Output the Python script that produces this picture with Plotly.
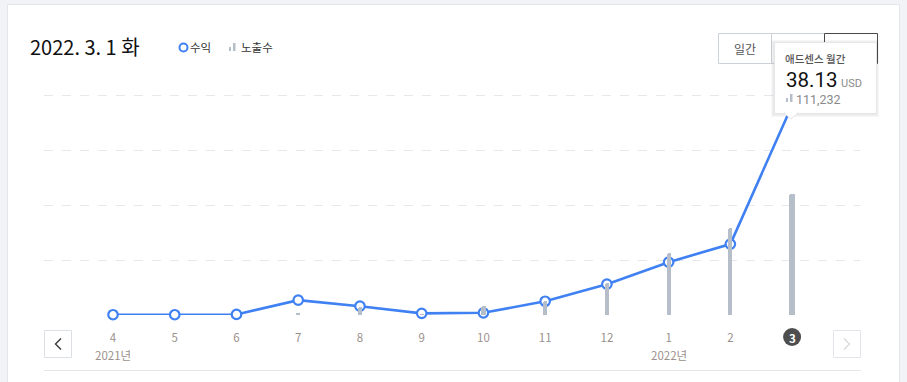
import plotly.graph_objects as go

# ---- data ----
months = ["4", "5", "6", "7", "8", "9", "10", "11", "12", "1", "2", "3"]
revenue_usd = [0.05, 0.05, 0.1, 2.7, 1.6, 0.3, 0.4, 2.5, 5.6, 9.6, 12.9, 38.13]
impressions = [0, 0, 0, 1800, 7000, 300, 8300, 13000, 29000, 57000, 80000, 111232]
year_labels = [("4", "2021년"), ("1", "2022년")]
current_month = "3"
title_text = "2022. 3. 1 화"
legend_names = ["수익", "노출수"]
tooltip_title = "애드센스 월간"
tooltip_value = "38.13"
tooltip_unit = "USD"
tooltip_imp = "111,232"
period_button = "일간"

W, H = 907, 382
L, R, T, B = 44, 860, 80, 315  # plot area pixels
FONT = "Noto Sans CJK KR, Noto Sans, sans-serif"
NUMFONT = "Roboto, Noto Sans, sans-serif"
BLUE = "#3f80f2"
BARC = "#b6bec9"
YTOP = 40 * (B - T) / 220.0  # 40 sits at y=95
Y2TOP = 111232 * (B - T) / 121.0  # 111,232 bar top at y=194


def px(x):
    return (x - L) / (R - L)


def py(y):
    return (B - y) / (B - T)


ci = months.index(current_month)
bar_widths = [0.1 if i == ci else 0.068 for i in range(len(months))]

fig = go.Figure()

fig.add_trace(go.Bar(
    x=months, y=impressions, yaxis="y2", width=bar_widths,
    marker=dict(color=BARC, cornerradius=2, line=dict(width=0)),
    hoverinfo="skip", showlegend=False,
))
fig.add_trace(go.Scatter(
    x=months, y=revenue_usd, mode="lines+markers", cliponaxis=False,
    line=dict(color=BLUE, width=2.6),
    marker=dict(size=9.5, color="white", line=dict(color=BLUE, width=2.2)),
    hoverinfo="skip", showlegend=False,
))

shapes = []
ann = []

# card background
shapes.append(dict(type="rect", xref="paper", yref="paper", layer="below",
                   x0=px(7.5), x1=px(899.5), y0=py(4.5), y1=py(400),
                   fillcolor="white", line=dict(color="#e3e6eb", width=1)))

# bottom separator
shapes.append(dict(type="line", xref="paper", yref="paper",
                   x0=px(44), x1=px(861), y0=py(370.5), y1=py(370.5),
                   line=dict(color="#e4e6ea", width=1)))

# nav buttons
shapes.append(dict(type="rect", xref="paper", yref="paper",
                   x0=px(44.5), x1=px(71.5), y0=py(330.5), y1=py(357.5),
                   fillcolor="white", line=dict(color="#dcdfe4", width=1)))
shapes.append(dict(type="path", xref="paper", yref="paper",
                   path=f"M {px(61)},{py(338.5)} L {px(55.5)},{py(344)} L {px(61)},{py(349.5)}",
                   line=dict(color="#333333", width=1.3)))
shapes.append(dict(type="rect", xref="paper", yref="paper",
                   x0=px(833.5), x1=px(860.5), y0=py(330.5), y1=py(357.5),
                   fillcolor="white", line=dict(color="#e3e5ea", width=1)))
shapes.append(dict(type="path", xref="paper", yref="paper",
                   path=f"M {px(844)},{py(338.5)} L {px(849.5)},{py(344)} L {px(844)},{py(349.5)}",
                   line=dict(color="#d6d9df", width=1.3)))

# current month circle (pixel-sized, anchored on the category axis)
shapes.append(dict(type="circle", xref="x", yref="paper",
                   xsizemode="pixel", ysizemode="pixel",
                   xanchor=ci, yanchor=py(337),
                   x0=-9, x1=9, y0=-9, y1=9,
                   fillcolor="#4e4e4e", line=dict(width=0)))

# period buttons
shapes.append(dict(type="rect", xref="paper", yref="paper",
                   x0=px(718.5), x1=px(771.5), y0=py(33.5), y1=py(63.5),
                   fillcolor="white", line=dict(color="#cdd1d8", width=1)))
shapes.append(dict(type="rect", xref="paper", yref="paper",
                   x0=px(771.5), x1=px(824.5), y0=py(33.5), y1=py(63.5),
                   fillcolor="white", line=dict(color="#cdd1d8", width=1)))
shapes.append(dict(type="rect", xref="paper", yref="paper",
                   x0=px(824.5), x1=px(877.5), y0=py(33.5), y1=py(63.5),
                   fillcolor="white", line=dict(color="#4a4a4a", width=1)))

# tooltip shadow + box + arrow
for i, a in enumerate([0.035, 0.05]):
    d = 3 - i * 1.5
    shapes.append(dict(type="rect", xref="paper", yref="paper",
                       x0=px(774 - d), x1=px(876 + d), y0=py(42 - d + 1), y1=py(113 + d + 1),
                       fillcolor=f"rgba(0,0,0,{a})", line=dict(width=0)))
shapes.append(dict(type="rect", xref="paper", yref="paper",
                   x0=px(774.5), x1=px(876.5), y0=py(42.5), y1=py(113.5),
                   fillcolor="white", line=dict(color="#e4e6ea", width=1)))
shapes.append(dict(type="path", xref="paper", yref="paper",
                   path=f"M {px(784)},{py(113)} L {px(791)},{py(119)} L {px(798)},{py(113)} Z",
                   fillcolor="white", line=dict(color="#e4e6ea", width=1)))
shapes.append(dict(type="line", xref="paper", yref="paper",
                   x0=px(785), x1=px(797), y0=py(113), y1=py(113),
                   line=dict(color="white", width=2)))

# legend icons
shapes.append(dict(type="circle", xref="paper", yref="paper",
                   x0=px(179.5), x1=px(187.5), y0=py(43.5), y1=py(51.5),
                   fillcolor="white", line=dict(color=BLUE, width=2)))
shapes.append(dict(type="rect", xref="paper", yref="paper",
                   x0=px(229), x1=px(231), y0=py(47), y1=py(51),
                   fillcolor=BARC, line=dict(width=0)))
shapes.append(dict(type="rect", xref="paper", yref="paper",
                   x0=px(233), x1=px(235.5), y0=py(43), y1=py(51),
                   fillcolor=BARC, line=dict(width=0)))
# tooltip bar icon
shapes.append(dict(type="rect", xref="paper", yref="paper",
                   x0=px(786), x1=px(788), y0=py(98), y1=py(102),
                   fillcolor=BARC, line=dict(width=0)))
shapes.append(dict(type="rect", xref="paper", yref="paper",
                   x0=px(790), x1=px(792.5), y0=py(94), y1=py(102),
                   fillcolor=BARC, line=dict(width=0)))


def text(x, y, s, size, color, anchor="left", weight=None, family=FONT):
    f = dict(family=family, size=size, color=color)
    if weight:
        f["weight"] = weight
    ann.append(dict(xref="paper", yref="paper", x=px(x), y=py(y), text=s,
                    showarrow=False, xanchor=anchor, yanchor="middle",
                    font=f, borderpad=0))


text(29, 47, title_text, 20, "#111111")
text(189, 47.5, legend_names[0], 11.5, "#333333")
text(240, 47.5, legend_names[1], 11.5, "#333333")
text(745, 48.5, period_button, 12, "#555555", anchor="center")
text(784, 58.5, tooltip_title, 10.5, "#555555", weight=500)
text(785, 80, tooltip_value, 20.5, "#111111", family=NUMFONT)
text(840, 83, tooltip_unit, 11, "#8a8a8a", family=NUMFONT)
text(795, 99.5, tooltip_imp, 12.5, "#8a8a8a", family=NUMFONT)

# year labels under months
for m, lab in year_labels:
    ann.append(dict(xref="x", yref="paper", x=months.index(m), y=py(355), text=lab,
                    showarrow=False, xanchor="center", yanchor="middle",
                    font=dict(family=FONT, size=11.5, color="#9b918c")))
# current month label
ann.append(dict(xref="x", yref="paper", x=ci, y=py(337.5), text="<b>" + current_month + "</b>",
                showarrow=False, xanchor="center", yanchor="middle",
                font=dict(family=FONT, size=11.5, color="white")))

fig.update_layout(
    width=W, height=H,
    margin=dict(l=L, r=W - R, t=T, b=H - B, pad=0),
    paper_bgcolor="#f2f3f7",
    plot_bgcolor="rgba(0,0,0,0)",
    shapes=shapes,
    annotations=ann,
    showlegend=False,
    bargap=0,
    xaxis=dict(
        type="category", range=[-1.118, 12.1], showgrid=False, zeroline=False,
        showline=False, ticks="", tickmode="array",
        tickvals=months[:-1], ticktext=months[:-1],
        tickfont=dict(family=FONT, size=11.5, color="#9b918c"),
        ticklabelstandoff=14, fixedrange=True,
    ),
    yaxis=dict(
        range=[0, YTOP], tickmode="array", tickvals=[10, 20, 30, 40],
        showticklabels=False, showgrid=True, gridcolor="#e6e8ec",
        griddash="dash", gridwidth=1, zeroline=False, showline=False,
    ),
    yaxis2=dict(
        range=[0, Y2TOP], overlaying="y", side="right",
        showgrid=False, showticklabels=False, zeroline=False, showline=False,
    ),
)

fig.write_html("out.html")
